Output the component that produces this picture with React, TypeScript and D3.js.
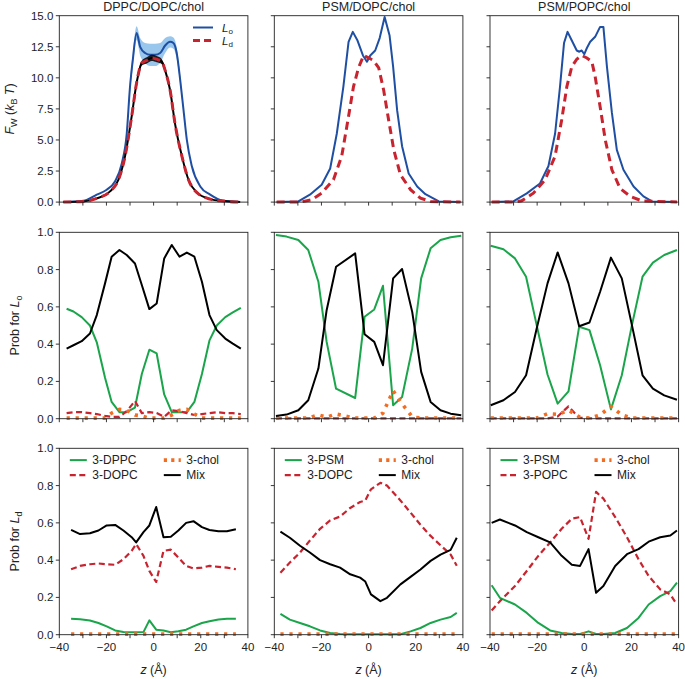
import React from "react";
import * as d3 from "d3";

const W = 685, H = 679;
const FONT = "'Liberation Sans', Arial, Helvetica, sans-serif";
const colLefts = [59.3, 274.3, 490];
const rowTops = [15.7, 232.3, 448.3];
const PW = 188.6, PH = 186.4;

const BLUE = "#1f4fa3";
const BAND = "#92c3ec";
const RED = "#c8242f";
const GREEN = "#1aa54b";
const ORANGE = "#f26c22";

const titles = ["DPPC/DOPC/chol", "PSM/DOPC/chol", "PSM/POPC/chol"];
const satNames = ["3-DPPC", "3-PSM", "3-PSM"];
const unsatNames = ["3-DOPC", "3-DOPC", "3-POPC"];

// ---------- Row 1: water free energy ----------
const zLo1 = [-38.3, -29.8, -24.1, -19.9, -16.4, -13.5, -11.4, -10, -8.85, -7.2, -5.7, -3.6, -1.5, 0.6, 2.8, 4.9, 7.0, 8.4, 9.8, 11.3, 12.7, 14.1, 16.2, 19.8, 24, 29.7, 36.7];
const fwLo1 = [0, 0.1, 0.6, 1.0, 1.66, 3.1, 5.5, 9.3, 11.4, 13.6, 12.5, 12.0, 11.85, 11.85, 12.0, 12.6, 12.9, 12.8, 12.0, 9.8, 7.4, 5.0, 2.9, 1.26, 0.6, 0.1, 0];
const errLo1 = [0, 0, 0, 0, 0, 0.1, 0.3, 0.5, 0.6, 0.55, 0.7, 0.8, 0.9, 0.9, 0.8, 0.6, 0.45, 0.45, 0.45, 0.35, 0.2, 0.05, 0, 0, 0, 0, 0];
const zLd1 = [-38.3, -29.8, -24.1, -18.5, -14.9, -12.1, -9.3, -7.2, -5.0, -2.9, -0.8, 1.3, 3.5, 4.9, 7.0, 9.1, 12.0, 14.8, 18.3, 24, 29.7, 36.7];
const fwLd1 = [0, 0.05, 0.3, 0.86, 1.8, 3.7, 6.9, 9.6, 11.2, 11.4, 11.6, 11.5, 11.3, 10.6, 9.0, 6.3, 3.7, 1.8, 0.78, 0.24, 0.08, 0];
const errLd1 = [0, 0, 0, 0, 0, 0, 0.05, 0.1, 0.2, 0.25, 0.25, 0.25, 0.2, 0.1, 0.05, 0, 0, 0, 0, 0, 0, 0];

const zLo2 = [-39, -29.8, -24.9, -19.9, -16.3, -13.5, -10.7, -8.5, -6.7, -4.7, -2.4, -0.7, 0.7, 2.8, 4.7, 6.8, 8.9, 10.4, 12.1, 14.2, 17.0, 20.6, 24.1, 29.8, 39];
const fwLo2 = [0, 0.05, 0.6, 1.4, 2.7, 5.5, 9.3, 12.9, 13.7, 13.0, 11.8, 11.3, 11.8, 12.2, 13.2, 14.9, 13.4, 10.9, 7.4, 4.5, 2.3, 1.26, 0.64, 0.05, 0];
const zLd2 = [-39, -29, -24.1, -19.9, -14.9, -11.4, -8.5, -6.4, -4.3, -2.1, 0, 2.1, 4.3, 6.4, 8.5, 10.7, 13.5, 17.8, 22.0, 26.3, 39];
const fwLd2 = [0, 0, 0.19, 0.72, 1.8, 3.7, 6.9, 9.3, 10.8, 11.8, 11.6, 11.4, 10.8, 9.0, 6.6, 4.2, 2.2, 1.0, 0.32, 0.05, 0];

const zLo3 = [-39.3, -30.1, -24.4, -18.8, -15.2, -12.4, -10.3, -8.6, -7.1, -5.3, -3.2, -2.1, -1.1, 0, 1.1, 2.5, 4.6, 6.7, 8.1, 9.6, 11.7, 13.8, 16.6, 20.9, 25.1, 28.7, 39.3];
const fwLo3 = [0, 0.05, 0.7, 1.5, 2.9, 5.5, 9.3, 12.8, 13.7, 13.0, 12.2, 12.1, 12.2, 11.9, 12.4, 12.9, 13.3, 14.1, 14.1, 10.9, 7.2, 4.2, 2.6, 1.26, 0.46, 0.05, 0];
const zLd3 = [-39.3, -30, -26.6, -21.6, -16.6, -12.4, -9.6, -7.4, -5.3, -3.2, -1.1, 1.1, 3.2, 4.6, 6.7, 8.9, 11.7, 15.2, 19.5, 24.4, 39.3];
const fwLd3 = [0, 0, 0.1, 0.72, 1.8, 3.7, 6.6, 9.3, 10.9, 11.5, 11.8, 11.6, 11.3, 10.1, 7.7, 5.0, 2.6, 1.1, 0.46, 0.1, 0];

// ---------- Row 2: probabilities in Lo ----------
const zP1 = [-36.9, -34.0, -30.5, -27, -24.1, -20.6, -17.8, -14.5, -11.4, -7.9, -5.0, -1.8, 1.3, 4.5, 7.7, 11, 14.1, 17.3, 20.5, 23.7, 26.8, 30.4, 33.6, 37];
const loSat1 = [0.59, 0.575, 0.545, 0.5, 0.41, 0.22, 0.09, 0.035, 0.035, 0.06, 0.24, 0.37, 0.35, 0.13, 0.035, 0.035, 0.035, 0.09, 0.24, 0.42, 0.5, 0.545, 0.57, 0.595];
const loUnsat1 = [0.03, 0.035, 0.035, 0.03, 0.025, 0.015, 0.01, 0.01, 0.04, 0.095, 0.03, 0.035, 0.03, 0.01, 0.045, 0.04, 0.03, 0.02, 0.025, 0.03, 0.035, 0.03, 0.03, 0.025];
const loChol1 = [0.003, 0.003, 0.003, 0.003, 0.003, 0.003, 0.03, 0.05, 0.045, 0.02, 0.015, 0.003, 0.003, 0.003, 0.02, 0.045, 0.05, 0.025, 0.003, 0.003, 0.003, 0.003, 0.003, 0.003];
const loMix1 = [0.376, 0.394, 0.416, 0.457, 0.556, 0.726, 0.869, 0.905, 0.878, 0.833, 0.717, 0.588, 0.618, 0.86, 0.932, 0.869, 0.891, 0.869, 0.735, 0.556, 0.475, 0.43, 0.403, 0.376];

const zP2 = [-39.3, -34.8, -29.8, -25.6, -21.3, -17.8, -13.8, -5.7, -1.7, 2.4, 6.1, 10.4, 14.2, 18.5, 22.3, 26.3, 30.5, 34.8, 39.3];
const loSat2 = [0.986, 0.977, 0.959, 0.905, 0.735, 0.412, 0.161, 0.111, 0.547, 0.586, 0.713, 0.072, 0.116, 0.376, 0.753, 0.914, 0.959, 0.973, 0.982];
const loUnsat2 = [0.002, 0.002, 0.002, 0.002, 0.002, 0.002, 0.002, 0.002, 0.002, 0.002, 0.002, 0.002, 0.002, 0.002, 0.002, 0.002, 0.002, 0.002, 0.002];
const loChol2 = [0.003, 0.003, 0.003, 0.003, 0.02, 0.008, 0.025, 0.003, 0.003, 0.003, 0.03, 0.15, 0.08, 0.01, 0.003, 0.003, 0.003, 0.003, 0.003];
const loMix2 = [0.014, 0.022, 0.045, 0.099, 0.269, 0.582, 0.815, 0.887, 0.453, 0.412, 0.287, 0.753, 0.803, 0.573, 0.251, 0.09, 0.045, 0.027, 0.018];

const zP3 = [-39.7, -34.3, -29.4, -24.7, -20.2, -15.6, -11.3, -6.7, -2.2, 2.2, 6.7, 11.3, 15.9, 20.2, 24.7, 29.1, 33.9, 39.3];
const loSat3 = [0.928, 0.909, 0.86, 0.762, 0.502, 0.237, 0.081, 0.147, 0.493, 0.475, 0.287, 0.05, 0.233, 0.502, 0.762, 0.837, 0.878, 0.905];
const loUnsat3 = [0.002, 0.002, 0.002, 0.002, 0.002, 0.002, 0.012, 0.066, 0.005, 0.002, 0.002, 0.002, 0.002, 0.002, 0.002, 0.002, 0.002, 0.002];
const loChol3 = [0.003, 0.003, 0.003, 0.003, 0.003, 0.027, 0.023, 0.045, 0.01, 0.003, 0.02, 0.066, 0.02, 0.003, 0.003, 0.003, 0.003, 0.003];
const loMix3 = [0.072, 0.099, 0.143, 0.233, 0.484, 0.726, 0.892, 0.726, 0.496, 0.516, 0.681, 0.864, 0.753, 0.502, 0.233, 0.161, 0.125, 0.102];

// ---------- Row 3: probabilities in Ld ----------
const zQ1 = [-35, -31.2, -27, -23.4, -19.9, -16.3, -12.8, -9.3, -7.4, -4.3, -1.8, 1.1, 4.2, 7.3, 10.5, 13.8, 16.9, 20.5, 23.7, 27.5, 31.1, 34.9];
const ldSat1 = [0.086, 0.083, 0.076, 0.063, 0.045, 0.023, 0.014, 0.013, 0.013, 0.014, 0.077, 0.027, 0.022, 0.013, 0.018, 0.027, 0.045, 0.063, 0.072, 0.081, 0.085, 0.085];
const ldUnsat1 = [0.351, 0.369, 0.378, 0.382, 0.378, 0.375, 0.405, 0.45, 0.486, 0.423, 0.342, 0.283, 0.45, 0.456, 0.414, 0.369, 0.355, 0.36, 0.369, 0.364, 0.36, 0.351];
const ldChol1 = [0.003, 0.003, 0.003, 0.003, 0.003, 0.003, 0.003, 0.003, 0.003, 0.003, 0.003, 0.003, 0.003, 0.003, 0.003, 0.003, 0.003, 0.003, 0.003, 0.003, 0.003, 0.003];
const ldMix1 = [0.562, 0.54, 0.544, 0.559, 0.586, 0.589, 0.559, 0.523, 0.495, 0.55, 0.586, 0.685, 0.523, 0.526, 0.559, 0.6, 0.609, 0.577, 0.562, 0.555, 0.555, 0.566];

const zQ2 = [-37.4, -33.4, -29.1, -24.9, -20.6, -16.3, -12.1, -7.8, -3.6, -1.4, 1.0, 5.0, 7.8, 13.5, 17.8, 22.0, 26.3, 30.5, 34.8, 37.4];
const ldSat2 = [0.112, 0.081, 0.063, 0.045, 0.023, 0.009, 0.004, 0.002, 0.002, 0.002, 0.002, 0.002, 0.002, 0.002, 0.018, 0.036, 0.063, 0.081, 0.095, 0.117];
const ldUnsat2 = [0.333, 0.387, 0.441, 0.505, 0.568, 0.613, 0.634, 0.68, 0.712, 0.72, 0.78, 0.815, 0.8, 0.72, 0.655, 0.59, 0.53, 0.48, 0.43, 0.37];
const ldChol2 = [0.003, 0.003, 0.003, 0.003, 0.003, 0.003, 0.003, 0.003, 0.003, 0.003, 0.003, 0.003, 0.003, 0.003, 0.003, 0.003, 0.003, 0.003, 0.003, 0.003];
const ldMix2 = [0.553, 0.52, 0.477, 0.441, 0.4, 0.378, 0.36, 0.324, 0.306, 0.285, 0.216, 0.18, 0.198, 0.27, 0.31, 0.35, 0.396, 0.43, 0.455, 0.52];

const zQ3 = [-39.3, -35.8, -29.4, -24.4, -19.5, -14.5, -9.6, -5.3, -1.8, 1.8, 5.0, 8.1, 13.1, 18.1, 23.0, 27.3, 32.2, 36.5, 39.3];
const ldSat3 = [0.265, 0.198, 0.162, 0.117, 0.063, 0.023, 0.009, 0.004, 0.004, 0.018, 0.004, 0.004, 0.009, 0.036, 0.09, 0.162, 0.207, 0.234, 0.279];
const ldUnsat3 = [0.13, 0.18, 0.261, 0.342, 0.423, 0.495, 0.568, 0.622, 0.631, 0.514, 0.766, 0.73, 0.631, 0.523, 0.405, 0.315, 0.243, 0.216, 0.162];
const ldChol3 = [0.003, 0.003, 0.003, 0.003, 0.003, 0.003, 0.003, 0.003, 0.003, 0.003, 0.003, 0.003, 0.003, 0.003, 0.003, 0.003, 0.003, 0.003, 0.003];
const ldMix3 = [0.6, 0.618, 0.586, 0.55, 0.523, 0.495, 0.423, 0.375, 0.369, 0.459, 0.225, 0.261, 0.369, 0.432, 0.459, 0.499, 0.523, 0.532, 0.559];

const xTicks = d3.range(-40, 41, 10);
const fwTicks = d3.range(0, 15.01, 2.5);
const probTicks = d3.range(0, 1.01, 0.2);

const styles: Record<string, any> = {
  sat: { stroke: GREEN, width: 2, dash: null },
  unsat: { stroke: RED, width: 2.2, dash: "6,3.5" },
  chol: { stroke: ORANGE, width: 3.6, dash: "3.2,5.8" },
  mix: { stroke: "#000", width: 2, dash: null },
};

function fmtX(v: number) {
  return v < 0 ? "\u2212" + Math.abs(v) : String(v);
}

function Axes({ col, row, x, y, yTicks }: any) {
  const left = colLefts[col], top = rowTops[row];
  const bottom = top + PH;
  const tl = 3.5;
  return (
    <g>
      <rect x={left} y={top} width={PW} height={PH} fill="none" stroke="#222" strokeWidth={0.9} />
      {xTicks.map((t) => (
        <line key={"xt" + t} x1={x(t)} x2={x(t)} y1={bottom} y2={bottom + tl} stroke="#222" strokeWidth={0.9} />
      ))}
      {yTicks.map((t: number) => (
        <line key={"yt" + t} x1={left - tl} x2={left} y1={y(t)} y2={y(t)} stroke="#222" strokeWidth={0.9} />
      ))}
      {col === 0 &&
        yTicks.map((t: number) => (
          <text key={"yl" + t} x={left - 6} y={y(t) + 4} textAnchor="end" fontSize={11.5} fill="#222">
            {d3.format(".1f")(t)}
          </text>
        ))}
      {row === 2 &&
        xTicks
          .filter((t) => t % 20 === 0)
          .map((t) => (
            <text key={"xl" + t} x={x(t)} y={bottom + 16.5} textAnchor="middle" fontSize={11.5} fill="#222">
              {fmtX(t)}
            </text>
          ))}
    </g>
  );
}

function FwPanel({ col, zLo, lo, zLd, ld, errLo, errLd, smooth }: any) {
  const left = colLefts[col], top = rowTops[0];
  const x = d3.scaleLinear().domain([-40, 40]).range([left, left + PW]);
  const y = d3.scaleLinear().domain([0, 15]).range([top + PH, top]);
  const curve = smooth ? d3.curveMonotoneX : d3.curveLinear;
  const loPts = zLo.map((z: number, i: number) => [z, lo[i], errLo ? errLo[i] : 0]);
  const ldPts = zLd.map((z: number, i: number) => [z, ld[i], errLd ? errLd[i] : 0]);
  const line = d3.line<any>().x((d) => x(d[0])).y((d) => y(d[1])).curve(curve);
  const band = d3.area<any>().x((d) => x(d[0])).y0((d) => y(d[1] - d[2])).y1((d) => y(d[1] + d[2])).curve(curve);
  return (
    <g>
      {errLo && <path d={band(loPts) || ""} fill={BAND} stroke="none" opacity={0.95} />}
      <path d={line(loPts) || ""} fill="none" stroke={BLUE} strokeWidth={2} strokeLinejoin="round" />
      {errLd && <path d={band(ldPts) || ""} fill="#000" stroke="none" opacity={0.85} />}
      {errLd && <path d={line(ldPts) || ""} fill="none" stroke="#000" strokeWidth={2} />}
      <path d={line(ldPts) || ""} fill="none" stroke={RED} strokeWidth={3} strokeDasharray="8,5" />
      <Axes col={col} row={0} x={x} y={y} yTicks={fwTicks} />
      <text x={left + PW / 2} y={top - 5} textAnchor="middle" fontSize={12.5} fill="#222">
        {titles[col]}
      </text>
    </g>
  );
}

function ProbPanel({ col, row, z, sat, unsat, chol, mix, legend }: any) {
  const left = colLefts[col], top = rowTops[row];
  const x = d3.scaleLinear().domain([-40, 40]).range([left, left + PW]);
  const y = d3.scaleLinear().domain([0, 1]).range([top + PH, top]);
  const line = d3.line<number>().x((d, i) => x(z[i])).y((d) => y(d));
  const series: [string, number[]][] = [
    ["sat", sat],
    ["unsat", unsat],
    ["chol", chol],
    ["mix", mix],
  ];
  const legItems = [
    { key: "sat", label: satNames[col], cx: 0, ry: 0 },
    { key: "unsat", label: unsatNames[col], cx: 0, ry: 1 },
    { key: "chol", label: "3-chol", cx: 1, ry: 0 },
    { key: "mix", label: "Mix", cx: 1, ry: 1 },
  ];
  return (
    <g>
      {series.map(([k, v]) => {
        const s = styles[k];
        return (
          <path
            key={k}
            d={line(v) || ""}
            fill="none"
            stroke={s.stroke}
            strokeWidth={s.width}
            strokeDasharray={s.dash || undefined}
            strokeLinejoin="round"
          />
        );
      })}
      <Axes col={col} row={row} x={x} y={y} yTicks={probTicks} />
      {legend &&
        legItems.map((it) => {
          const s = styles[it.key];
          const x0 = left + (it.cx === 0 ? 10.5 : 104.5);
          const yy = top + 11.8 + it.ry * 15;
          return (
            <g key={it.key}>
              <line
                x1={x0}
                x2={x0 + 17}
                y1={yy}
                y2={yy}
                stroke={s.stroke}
                strokeWidth={s.width}
                strokeDasharray={it.key === "chol" ? "3.2,4.2" : s.dash || undefined}
              />
              <text x={x0 + 22.5} y={yy + 4.2} fontSize={12} fill="#222">
                {it.label}
              </text>
            </g>
          );
        })}
    </g>
  );
}

export default function App() {
  const xAxisLabelY = 674;
  return (
    <svg
      width={W}
      height={H}
      viewBox={`0 0 ${W} ${H}`}
      style={{ position: "absolute", left: 0, top: 0, background: "#fff" }}
      fontFamily={FONT}
    >
      <rect x={0} y={0} width={W} height={H} fill="#fff" />
      <FwPanel col={0} zLo={zLo1} lo={fwLo1} errLo={errLo1} zLd={zLd1} ld={fwLd1} errLd={errLd1} smooth />
      <FwPanel col={1} zLo={zLo2} lo={fwLo2} zLd={zLd2} ld={fwLd2} />
      <FwPanel col={2} zLo={zLo3} lo={fwLo3} zLd={zLd3} ld={fwLd3} />

      <ProbPanel col={0} row={1} z={zP1} sat={loSat1} unsat={loUnsat1} chol={loChol1} mix={loMix1} />
      <ProbPanel col={1} row={1} z={zP2} sat={loSat2} unsat={loUnsat2} chol={loChol2} mix={loMix2} />
      <ProbPanel col={2} row={1} z={zP3} sat={loSat3} unsat={loUnsat3} chol={loChol3} mix={loMix3} />

      <ProbPanel col={0} row={2} z={zQ1} sat={ldSat1} unsat={ldUnsat1} chol={ldChol1} mix={ldMix1} legend />
      <ProbPanel col={1} row={2} z={zQ2} sat={ldSat2} unsat={ldUnsat2} chol={ldChol2} mix={ldMix2} legend />
      <ProbPanel col={2} row={2} z={zQ3} sat={ldSat3} unsat={ldUnsat3} chol={ldChol3} mix={ldMix3} legend />

      {/* Row 1 legend */}
      <g>
        <line x1={193} x2={213} y1={27.5} y2={27.5} stroke={BLUE} strokeWidth={2} />
        <line x1={193} x2={213} y1={40.5} y2={40.5} stroke={RED} strokeWidth={3} strokeDasharray="7,4" />
        <text x={222} y={31.5} fontSize={11.5} fill="#222">
          <tspan fontStyle="italic">L</tspan>
          <tspan fontSize={8} dy={2}>o</tspan>
        </text>
        <text x={222} y={44.5} fontSize={11.5} fill="#222">
          <tspan fontStyle="italic">L</tspan>
          <tspan fontSize={8} dy={2}>d</tspan>
        </text>
      </g>

      {/* Y labels */}
      <text transform={`translate(14,${rowTops[0] + PH / 2}) rotate(-90)`} textAnchor="middle" fontSize={12.5} fill="#222">
        <tspan fontStyle="italic">F</tspan>
        <tspan fontSize={9} dy={3}>W</tspan>
        <tspan dy={-3}> (</tspan>
        <tspan fontStyle="italic">k</tspan>
        <tspan fontSize={9} dy={3}>B</tspan>
        <tspan dy={-3} fontStyle="italic"> T</tspan>
        <tspan>)</tspan>
      </text>
      <text transform={`translate(19,${rowTops[1] + PH / 2}) rotate(-90)`} textAnchor="middle" fontSize={12.5} fill="#222">
        <tspan>Prob for </tspan>
        <tspan fontStyle="italic">L</tspan>
        <tspan fontSize={9} dy={3}>o</tspan>
      </text>
      <text transform={`translate(19,${rowTops[2] + PH / 2}) rotate(-90)`} textAnchor="middle" fontSize={12.5} fill="#222">
        <tspan>Prob for </tspan>
        <tspan fontStyle="italic">L</tspan>
        <tspan fontSize={9} dy={3}>d</tspan>
      </text>

      {/* X labels */}
      {colLefts.map((l, i) => (
        <text key={"zl" + i} x={l + PW / 2} y={xAxisLabelY} textAnchor="middle" fontSize={12.5} fill="#222">
          <tspan fontStyle="italic">z</tspan>
          <tspan> (Å)</tspan>
        </text>
      ))}
    </svg>
  );
}
